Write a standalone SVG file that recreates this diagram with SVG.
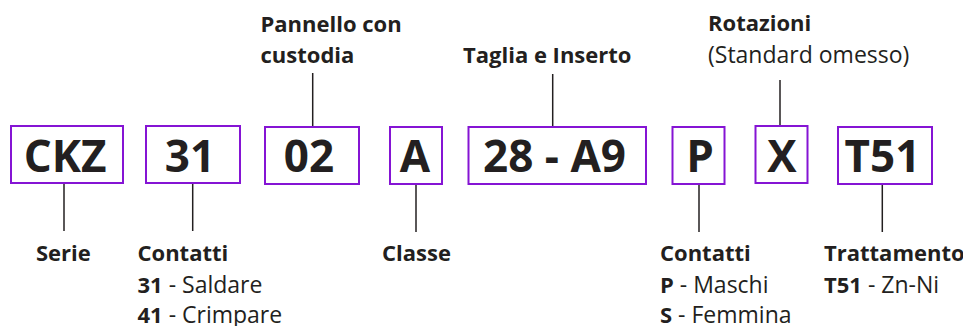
<svg xmlns="http://www.w3.org/2000/svg" width="963" height="326" viewBox="0 0 963 326">
<style>
.box{fill:#fff;stroke:#8514d4;stroke-width:2}
.code{font-family:"Open Sans",sans-serif;font-weight:700;font-size:44px;fill:#231f20;text-anchor:middle}
.lbl{font-family:"Open Sans",sans-serif;font-size:23px;fill:#231f20}
.b{font-weight:700;font-size:22px}
.conn line{stroke:#231f20;stroke-width:1.5}
</style>
<rect width="963" height="326" fill="#fff"/>
<g class="conn">
<line x1="64" y1="183" x2="64" y2="231"/>
<line x1="192.7" y1="183" x2="192.7" y2="231"/>
<line x1="312.7" y1="73" x2="312.7" y2="127"/>
<line x1="416" y1="184" x2="416" y2="232"/>
<line x1="552.7" y1="74" x2="552.7" y2="127"/>
<line x1="699" y1="184" x2="699" y2="232"/>
<line x1="780" y1="80" x2="780" y2="126"/>
<line x1="882.3" y1="184" x2="882.3" y2="232"/>
</g>
<g id="n-ckz"><rect class="box" x="11" y="126" width="112" height="57"/><text class="code" x="65" y="172">CKZ</text></g>
<g id="n-31"><rect class="box" x="146" y="126" width="94" height="57"/><text class="code" x="190" y="172">31</text></g>
<g id="n-02"><rect class="box" x="265" y="127" width="94" height="57"/><text class="code" x="309" y="172">02</text></g>
<g id="n-a"><rect class="box" x="390" y="127" width="52" height="57"/><text class="code" x="415" y="172">A</text></g>
<g id="n-28a9"><rect class="box" x="468.5" y="127" width="177.5" height="57"/><text class="code" x="554.5" y="172">28 - A9</text></g>
<g id="n-p"><rect class="box" x="672.5" y="127" width="52" height="57"/><text class="code" x="700" y="172">P</text></g>
<g id="n-x"><rect class="box" x="755.5" y="126" width="52" height="57"/><text class="code" x="782" y="172">X</text></g>
<g id="n-t51"><rect class="box" x="838" y="127" width="94" height="57"/><text class="code" x="882.5" y="172">T51</text></g>
<g id="l-pannello"><text class="lbl b" x="260.5" y="31.5">Pannello con</text><text class="lbl b" x="260.5" y="62.5">custodia</text></g>
<g id="l-taglia"><text class="lbl b" x="463" y="62.5">Taglia e Inserto</text></g>
<g id="l-rotazioni"><text class="lbl b" x="708" y="31">Rotazioni</text><text class="lbl" x="708" y="62.5">(Standard omesso)</text></g>
<g id="l-serie"><text class="lbl b" x="36" y="261">Serie</text></g>
<g id="l-contatti1"><text class="lbl b" x="137.5" y="261">Contatti</text><text class="lbl" x="137.5" y="292.5"><tspan class="b">31</tspan> - Saldare</text><text class="lbl" x="137.5" y="322.5"><tspan class="b">41</tspan> - Crimpare</text></g>
<g id="l-classe"><text class="lbl b" x="382" y="261">Classe</text></g>
<g id="l-contatti2"><text class="lbl b" x="660" y="261">Contatti</text><text class="lbl" x="660" y="292.5"><tspan class="b">P</tspan> - Maschi</text><text class="lbl" x="660" y="322.5"><tspan class="b">S</tspan> - Femmina</text></g>
<g id="l-trattamento"><text class="lbl b" x="824" y="261">Trattamento</text><text class="lbl" x="824" y="292.5"><tspan class="b">T51</tspan> - Zn-Ni</text></g>
</svg>
